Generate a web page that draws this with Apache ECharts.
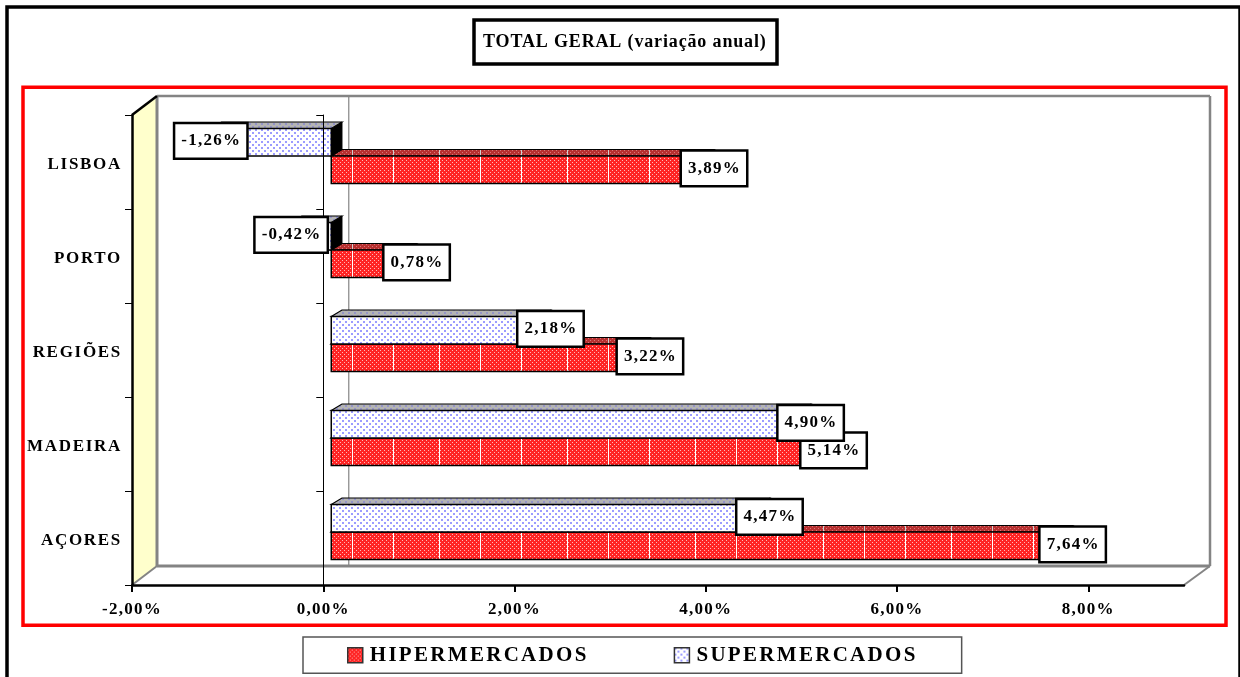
<!DOCTYPE html>
<html><head><meta charset="utf-8">
<style>html,body{margin:0;padding:0;background:#fff}#c{width:1240px;height:677px}</style>
<script src="https://cdn.jsdelivr.net/npm/echarts@6/dist/echarts.min.js"></script>
</head><body><div id="c"></div>
<script>
const categories = ['LISBOA','PORTO','REGIÕES','MADEIRA','AÇORES'];
const hipermercados = [3.89,0.78,3.22,5.14,7.64];
const supermercados = [-1.26,-0.42,2.18,4.90,4.47];
const seriesNames = ['HIPERMERCADOS','SUPERMERCADOS'];
const titleText = 'TOTAL GERAL (variação anual)';
const FONT = '"Liberation Serif","Times New Roman",serif';

// letter spacing of the original's text (canvas text has no option for it)
function spacingOf(t){
  if(t===titleText) return 0.85;
  if(seriesNames.includes(t)) return 2.3;
  if(categories.includes(t)) return 1.7;
  return 1.25;
}
const P = CanvasRenderingContext2D.prototype, oF = P.fillText, oM = P.measureText;
P.fillText = function(t,x,y,m){ this.letterSpacing = spacingOf(String(t))+'px'; return m===undefined?oF.call(this,t,x,y):oF.call(this,t,x,y,m); };
P.measureText = function(t){ this.letterSpacing = spacingOf(String(t))+'px'; return oM.call(this,t); };

function tile(w,h,draw){ const c=document.createElement('canvas'); c.width=w;c.height=h; draw(c.getContext('2d')); return {image:c,repeat:'repeat'}; }
function redTile(base,hi,lines){ return tile(128,4,g=>{
  g.fillStyle=base;g.fillRect(0,0,128,4);
  g.fillStyle=hi;
  for(let x=0;x<128;x+=2){g.fillRect(x,(x%4)?0:2,1,1);}
  g.fillStyle=lines;[9,55,96].forEach(x=>g.fillRect(x,0,1,4));
});}
function dotTile(base,dot,size){ return tile(6,6,g=>{
  g.fillStyle=base;g.fillRect(0,0,6,6);g.fillStyle=dot;
  g.fillRect(0,0,size,size);g.fillRect(3,3,size,size);
});}
const hiperFront = redTile('#FF2424','#FFB8B8','#FFFFFF');
const hiperTop = redTile('#B83030','#D87878','#D0D0D0');
const superFront = dotTile('#FFFFFF','#9C9CFF',2);
const superTop = dotTile('#B4B4B4','#9494C8',2);
const legendHiper = redTile('#FF2424','#FFB8B8','#FF2424');

const chart = echarts.init(document.getElementById('c'));
const DX=25, DY=19;           // depth of the chart box
const SX=8, SY=6;             // depth offset of the bars
const TX=10.7, TY=6.5;        // depth of a bar
const BAR=27.5;

function poly(pts,fill,stroke,lw){return {type:'polygon',shape:{points:pts},style:{fill,stroke:stroke||'none',lineWidth:lw||0}};}
function line(x1,y1,x2,y2,c,w){return {type:'line',shape:{x1,y1,x2,y2},style:{stroke:c,lineWidth:w,fill:'none'}};}

function frameItem(p,api){
  const g=p.coordSys, l=g.x, t=g.y, r=g.x+g.width, b=g.y+g.height, z=api.coord([0,0])[0];
  const gray='#848484';
  return {type:'group',children:[
    poly([[l,t],[l+DX,t-DY+0.5],[l+DX,b-DY],[l,b]],'#FFFFCC'),
    line(z+DX+0.5,t-DY,z+DX+0.5,b-DY,gray,1.2),
    line(l+DX,t-DY,r+DX+1,t-DY,gray,2.5),
    line(l+DX,b-DY,r+DX+1,b-DY,gray,3),
    line(l+DX,t-DY,l+DX,b-DY,gray,3),
    line(r+DX+1,t-DY,r+DX+1,b-DY,gray,2.5),
    line(r,b,r+DX+1,b-DY,gray,2),
    line(l,b,l+DX,b-DY,gray,2),
    line(l,t,l+DX,t-DY,'#000',2.5)
  ]};
}
function barItem(upper,front,top){
  return function(p,api){
    const v=api.value(0), ci=api.value(1), c=api.coord([0,ci])[1]-SY;
    const x0=api.coord([0,ci])[0]+SX, xe=api.coord([v,ci])[0]+SX;
    const y0=upper?c-BAR:c, y1=upper?c:c+BAR, L=Math.min(x0,xe), R=Math.max(x0,xe);
    return {type:'group',children:[
      poly([[R,y0],[R+TX,y0-TY],[R+TX,y1-TY],[R,y1]],'#000','#000',1),
      poly([[L,y0],[L+TX,y0-TY],[R+TX,y0-TY],[R,y0]],top,'#000',1.2),
      poly([[L,y0],[R,y0],[R,y1],[L,y1]],front,'#000',1.5)
    ]};
  };
}
function labelItem(upper){
  return function(p,api){
    const v=api.value(0), ci=api.value(1), c=api.coord([0,ci])[1]-SY;
    const xe=api.coord([v,ci])[0]+SX, cx=v<0?xe:xe+TX, cy=(upper?c-BAR/2:c+BAR/2)-1.5;
    return {type:'text',style:{
      text:v.toFixed(2).replace('.',',')+'%',x:cx,y:cy,align:'center',verticalAlign:'middle',
      font:'bold 17px '+FONT,fill:'#000',backgroundColor:'#fff',borderColor:'#000',borderWidth:2.5,
      padding:[9,5,6,6]}};
  };
}
const toPts = a=>a.map((v,i)=>[v,i]);
const customBase={type:'custom',coordinateSystem:'cartesian2d',xAxisIndex:0,yAxisIndex:0,encode:{x:0,y:1},clip:false,silent:true};

chart.setOption({
  animation:false,backgroundColor:'#fff',
  title:{text:titleText,left:474,top:20,padding:[13,11,12,9],borderColor:'#000',borderWidth:3.5,backgroundColor:'#fff',
    textStyle:{fontFamily:FONT,fontWeight:'bold',fontSize:18,color:'#000'}},
  legend:{left:303,top:637,padding:[7,44,7,44],orient:'horizontal',itemGap:85,itemWidth:15,itemHeight:15,
    borderColor:'#555',borderWidth:1.5,backgroundColor:'#fff',selectedMode:false,
    textStyle:{fontFamily:FONT,fontWeight:'bold',fontSize:21,color:'#000',padding:[0,0,0,2]},
    data:[
      {name:seriesNames[0],icon:'rect',itemStyle:{color:legendHiper,borderColor:'#333',borderWidth:1.5}},
      {name:seriesNames[1],icon:'rect',itemStyle:{color:superFront,borderColor:'#333',borderWidth:1.5}}
    ]},
  grid:{left:132,right:56,top:115,bottom:92,containLabel:false},
  xAxis:{type:'value',min:-2,max:9,interval:2,position:'bottom',z:5,
    splitLine:{show:false},
    axisLine:{show:true,onZero:false,lineStyle:{color:'#000',width:2.5}},
    axisTick:{show:true,length:7,lineStyle:{color:'#000',width:2}},
    axisLabel:{margin:15,fontFamily:FONT,fontWeight:'bold',fontSize:17,color:'#000',showMaxLabel:false,
      formatter:v=>v.toFixed(2).replace('.',',')+'%'}},
  yAxis:[
    {type:'category',inverse:true,data:categories,z:5,
     axisLine:{show:true,onZero:false,lineStyle:{color:'#000',width:2.5}},
     axisTick:{show:true,length:7,lineStyle:{color:'#000',width:1}},
     axisLabel:{margin:10,formatter:v=>'{c|'+v+'}',
       rich:{c:{padding:[5,0,0,0],fontFamily:FONT,fontWeight:'bold',fontSize:17,color:'#000'}}}},
    {type:'category',inverse:true,data:categories,z:5,
     axisLine:{show:true,onZero:true,lineStyle:{color:'#000',width:1}},
     axisTick:{show:true,inside:true,length:7,lineStyle:{color:'#000',width:1}},
     axisLabel:{show:false},splitLine:{show:false}}
  ],
  graphic:[
    {type:'rect',silent:true,z:-1,shape:{x:7,y:7,width:1233,height:680},style:{fill:'none',stroke:'#000',lineWidth:3.5}},
    {type:'rect',silent:true,z:-1,shape:{x:23,y:87.3,width:1203,height:538},style:{fill:'none',stroke:'#FF0000',lineWidth:3.5}}
  ],
  series:[
    Object.assign({},customBase,{name:'frame',z:1,renderItem:frameItem,data:[[0,0]]}),
    Object.assign({},customBase,{name:seriesNames[0],z:2,renderItem:barItem(false,hiperFront,hiperTop),data:toPts(hipermercados)}),
    Object.assign({},customBase,{name:seriesNames[1],z:3,renderItem:barItem(true,superFront,superTop),data:toPts(supermercados)}),
    Object.assign({},customBase,{name:'rotulos-h',z:7,renderItem:labelItem(false),data:toPts(hipermercados)}),
    Object.assign({},customBase,{name:'rotulos-s',z:8,renderItem:labelItem(true),data:toPts(supermercados)})
  ]
});
</script></body></html>
